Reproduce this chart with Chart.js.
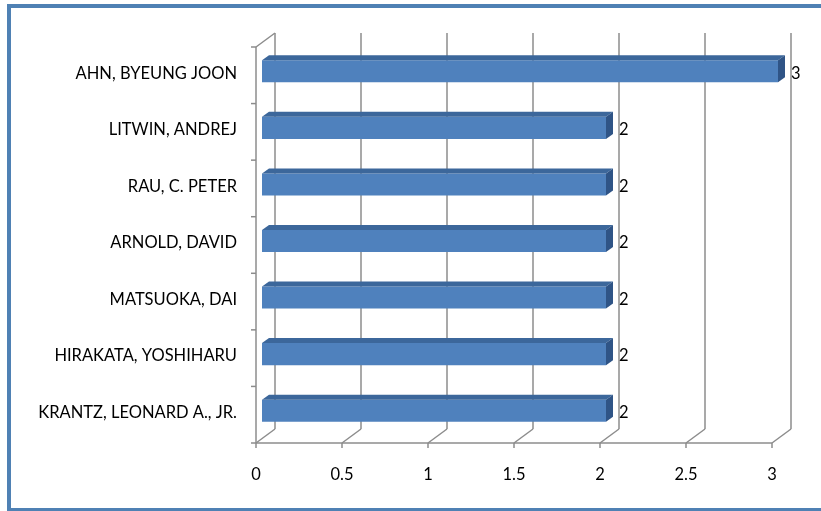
<!DOCTYPE html>
<html>
<head>
<meta charset="utf-8">
<script src="https://cdn.jsdelivr.net/npm/chart.js@4.4.1/dist/chart.umd.min.js"></script>
<style>
    html, body { margin: 0; padding: 0; background: #fff; }
    #wrap { position: relative; width: 821px; height: 511px; overflow: hidden; }
    #frame { position: absolute; left: 7px; top: 4px; width: 830px; height: 500px; border: 4px solid #4f81b4; }
    canvas { position: absolute; left: 0; top: 0; }
</style>
</head>
<body>
<div id="wrap">
    <div id="frame"></div>
    <canvas id="chart" width="821" height="511"></canvas>
</div>
<script>
// chart data
const names = ['AHN, BYEUNG JOON', 'LITWIN, ANDREJ', 'RAU, C. PETER', 'ARNOLD, DAVID',
    'MATSUOKA, DAI', 'HIRAKATA, YOSHIHARU', 'KRANTZ, LEONARD A., JR.'];
const counts = [3, 2, 2, 2, 2, 2, 2];
const xTicks = [0, 0.5, 1, 1.5, 2, 2.5, 3];
const xTickLabels = ['0', '0.5', '1', '1.5', '2', '2.5', '3'];

// 3d offsets (front plane and back wall relative to the bar plane)
const FRONT = { dx: -6, dy: 4 };
const BACK = { dx: 13, dy: -10 };
const DEPTH = { dx: 7, dy: -5 };
const gridColor = '#8c8c8c';
const labelFont = { family: 'Lato', size: 16.5 };

function line(ctx, x1, y1, x2, y2) {
    ctx.beginPath();
    ctx.moveTo(x1, y1);
    ctx.lineTo(x2, y2);
    ctx.stroke();
}

// walls, floor and gridlines
const grid3d = {
    id: 'grid3d',
    beforeDatasetsDraw(chart) {
        const { ctx, chartArea: a, scales: { x, y } } = chart;
        ctx.save();
        ctx.strokeStyle = gridColor;
        ctx.lineWidth = 1.5;
        const fb = a.bottom + FRONT.dy, bb = a.bottom + BACK.dy;
        const ft = a.top + FRONT.dy, bt = a.top + BACK.dy;
        xTicks.forEach(v => {
            const p = x.getPixelForValue(v);
            line(ctx, p + BACK.dx, bt, p + BACK.dx, bb);
            line(ctx, p + FRONT.dx, fb, p + BACK.dx, bb);
            line(ctx, p + FRONT.dx, fb, p + FRONT.dx, fb + 5);
        });
        const x0 = x.getPixelForValue(xTicks[0]);
        const xN = x.getPixelForValue(xTicks[xTicks.length - 1]);
        // floor front edge
        line(ctx, x0 + FRONT.dx, fb, xN + FRONT.dx, fb);
        // left wall
        line(ctx, x0 + FRONT.dx, ft, x0 + FRONT.dx, fb);
        line(ctx, x0 + FRONT.dx, ft, x0 + BACK.dx, bt);
        const band = (a.bottom - a.top) / names.length;
        for (let i = 0; i <= names.length; i++) {
            const yy = a.top + i * band + FRONT.dy;
            line(ctx, x0 + FRONT.dx - 5, yy, x0 + FRONT.dx, yy);
        }
        ctx.restore();
    }
};

// top and side faces + value labels
const bars3d = {
    id: 'bars3d',
    afterDatasetsDraw(chart) {
        const ctx = chart.ctx;
        const meta = chart.getDatasetMeta(0);
        ctx.save();
        meta.data.forEach((bar, i) => {
            const { x, y, base, height } = bar.getProps(['x', 'y', 'base', 'height'], true);
            const top = y - height / 2, bot = y + height / 2;
            // top face
            ctx.fillStyle = '#3c679b';
            ctx.beginPath();
            ctx.moveTo(base, top);
            ctx.lineTo(base + DEPTH.dx, top + DEPTH.dy);
            ctx.lineTo(x + DEPTH.dx, top + DEPTH.dy);
            ctx.lineTo(x, top);
            ctx.closePath();
            ctx.fill();
            // side face
            ctx.fillStyle = '#2f5486';
            ctx.beginPath();
            ctx.moveTo(x, top);
            ctx.lineTo(x + DEPTH.dx, top + DEPTH.dy);
            ctx.lineTo(x + DEPTH.dx, bot + DEPTH.dy);
            ctx.lineTo(x, bot);
            ctx.closePath();
            ctx.fill();
            // value
            ctx.fillStyle = '#000';
            ctx.font = labelFont.size + 'px ' + labelFont.family;
            ctx.textAlign = 'left';
            ctx.textBaseline = 'middle';
            ctx.fillText(String(counts[i]), x + 13, y + 2);
        });
        ctx.restore();
    }
};

const chart = new Chart(document.getElementById('chart'), {
    type: 'bar',
    data: {
        labels: names,
        datasets: [{
            data: counts,
            backgroundColor: '#4f81bd',
            borderWidth: 0,
            barPercentage: 0.39,
            categoryPercentage: 1
        }]
    },
    options: {
        indexAxis: 'y',
        responsive: false,
        animation: false,
        layout: { padding: { left: 0, right: 43, top: 43, bottom: 22 } },
        plugins: { legend: { display: false }, tooltip: { enabled: false } },
        scales: {
            x: {
                min: 0,
                max: 3,
                grid: { display: false },
                border: { display: false },
                ticks: {
                    stepSize: 0.5,
                    padding: 18,
                    labelOffset: FRONT.dx,
                    color: '#000',
                    font: labelFont,
                    callback: (v, i) => xTickLabels[i]
                },
                afterFit(scale) { scale.height = 50; }
            },
            y: {
                grid: { display: false },
                border: { display: false },
                ticks: {
                    padding: 17,
                    labelOffset: 2,
                    color: '#000',
                    font: labelFont
                },
                afterFit(scale) { scale.width = 262; }
            }
        }
    },
    plugins: [grid3d, bars3d]
});
</script>
</body>
</html>
